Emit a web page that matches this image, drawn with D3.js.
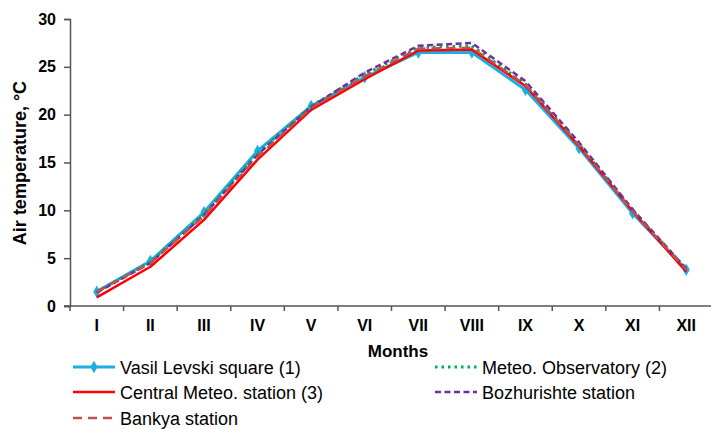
<!DOCTYPE html>
<html>
<head>
<meta charset="utf-8">
<script src="https://cdn.jsdelivr.net/npm/d3@7"></script>
<style>
  body { margin: 0; background: #fff; }
  text { font-family: "Liberation Sans", Arial, sans-serif; }
</style>
</head>
<body>
<script>
const WIDTH = 711;
const HEIGHT = 429;
const MARGIN = { top: 19, right: -2, bottom: 123, left: 70 };

const months = ["I", "II", "III", "IV", "V", "VI", "VII", "VIII", "IX", "X", "XI", "XII"];
const yTicks = [0, 5, 10, 15, 20, 25, 30];

const vasilLevski = [1.5, 4.7, 9.8, 16.2, 20.9, 23.9, 26.5, 26.5, 22.6, 16.5, 9.7, 3.8];
const meteoObservatory = [1.5, 4.6, 9.6, 16.0, 20.9, 24.2, 27.0, 27.2, 23.2, 16.9, 10.0, 3.9];
const centralMeteo = [0.9, 4.1, 9.0, 15.3, 20.5, 23.7, 26.7, 26.8, 23.0, 16.7, 9.9, 3.6];
const bozhurishte = [1.4, 4.5, 9.5, 15.8, 20.8, 24.4, 27.2, 27.5, 23.5, 17.1, 10.1, 3.9];
const bankya = [1.5, 4.5, 9.4, 15.6, 20.7, 24.0, 26.9, 27.0, 23.1, 16.8, 9.9, 3.8];

// series styles
const series = [
    { name: "Vasil Levski square (1)", values: vasilLevski, color: "#1aaee5", width: 3, dash: null, marker: true },
    { name: "Meteo. Observatory (2)", values: meteoObservatory, color: "#00b050", width: 3, dash: "2.5,4", marker: false },
    { name: "Central Meteo. station (3)", values: centralMeteo, color: "#ff0000", width: 2.5, dash: null, marker: false },
    { name: "Bozhurishte station", values: bozhurishte, color: "#7030a0", width: 2.5, dash: "6,3.5", marker: false },
    { name: "Bankya station", values: bankya, color: "#c0504d", width: 2.5, dash: "9,6", marker: false },
];

const svg = d3.select("body")
    .append("svg")
    .attr("width", WIDTH)
    .attr("height", HEIGHT);

const innerW = WIDTH - MARGIN.left - MARGIN.right;
const innerH = HEIGHT - MARGIN.top - MARGIN.bottom;

const g = svg.append("g")
    .attr("transform", `translate(${MARGIN.left},${MARGIN.top})`);

const x = d3.scaleBand().domain(months).range([0, innerW]);
const y = d3.scaleLinear().domain([0, 30]).range([innerH, 0]);

// y axis
const yAxis = g.append("g")
    .call(d3.axisLeft(y).tickValues(yTicks).tickSize(6).tickPadding(8));
yAxis.select(".domain").attr("stroke", "#555").attr("stroke-width", 1.5);
yAxis.selectAll(".tick line").attr("stroke", "#555").attr("stroke-width", 1.5);
yAxis.selectAll("text").attr("font-size", 16).attr("font-weight", "bold").attr("fill", "#000")
    .style("font-family", "'Liberation Sans', Arial, sans-serif");

// x axis, ticks at category boundaries
const xAxis = g.append("g").attr("transform", `translate(0,${innerH})`);
xAxis.append("line")
    .attr("x1", -6).attr("x2", innerW)
    .attr("stroke", "#555").attr("stroke-width", 1.5);
xAxis.selectAll("line.tk")
    .data(months)
    .join("line")
    .attr("class", "tk")
    .attr("x1", (d) => x(d)).attr("x2", (d) => x(d))
    .attr("y1", 0).attr("y2", 5)
    .attr("stroke", "#555").attr("stroke-width", 1.5);
xAxis.selectAll("text")
    .data(months)
    .join("text")
    .attr("x", (d) => x(d) + x.bandwidth() / 2)
    .attr("y", 25)
    .attr("text-anchor", "middle")
    .attr("font-size", 16)
    .attr("font-weight", "bold")
    .text((d) => d);

// axis titles
svg.append("text")
    .attr("transform", `translate(26,163) rotate(-90)`)
    .attr("text-anchor", "middle")
    .attr("font-size", 18)
    .attr("font-weight", "bold")
    .text("Air temperature, °C");

svg.append("text")
    .attr("x", 398)
    .attr("y", 357)
    .attr("text-anchor", "middle")
    .attr("font-size", 17)
    .attr("font-weight", "bold")
    .text("Months");

// lines
const line = d3.line()
    .x((d, i) => x(months[i]) + x.bandwidth() / 2)
    .y((d) => y(d));

series.forEach((s) => {
    g.append("path")
        .datum(s.values)
        .attr("d", line)
        .attr("fill", "none")
        .attr("stroke", s.color)
        .attr("stroke-width", s.width)
        .attr("stroke-dasharray", s.dash)
        .attr("stroke-linejoin", "round");
    if (s.marker) {
        g.selectAll("path.mk")
            .data(s.values)
            .join("path")
            .attr("class", "mk")
            .attr("d", d3.symbol(d3.symbolDiamond, 45))
            .attr("transform", (d, i) => `translate(${x(months[i]) + x.bandwidth() / 2},${y(d)})`)
            .attr("fill", s.color);
    }
});

// legend
const legendPos = [
    { x: 73, y: 367 }, { x: 435, y: 367 },
    { x: 73, y: 392 }, { x: 435, y: 392 },
    { x: 73, y: 418 },
];

series.forEach((s, i) => {
    const p = legendPos[i];
    const lg = svg.append("g").attr("transform", `translate(${p.x},${p.y})`);
    lg.append("line")
        .attr("x1", 0).attr("x2", 42)
        .attr("stroke", s.color)
        .attr("stroke-width", s.width)
        .attr("stroke-dasharray", s.dash);
    if (s.marker) {
        lg.append("path")
            .attr("d", d3.symbol(d3.symbolDiamond, 45))
            .attr("transform", "translate(21,0)")
            .attr("fill", s.color);
    }
    lg.append("text")
        .attr("x", 47)
        .attr("y", 6.5)
        .attr("font-size", 18)
        .text(s.name);
});
</script>
</body>
</html>
